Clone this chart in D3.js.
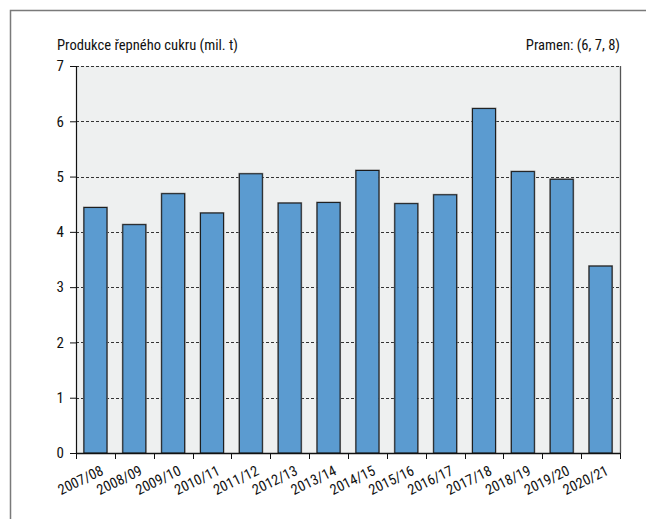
<!DOCTYPE html>
<html>
<head>
<meta charset="utf-8">
<script src="https://cdn.jsdelivr.net/npm/d3@7"></script>
<style>
  body { margin: 0; background: #fff; }
  svg text { font-family: "Liberation Sans Narrow", "Roboto Condensed", "Liberation Sans", sans-serif; fill: #111; }
</style>
</head>
<body>
<div id="chart"></div>
<script>
const seasons = ['2007/08', '2008/09', '2009/10', '2010/11', '2011/12', '2012/13', '2013/14',
    '2014/15', '2015/16', '2016/17', '2017/18', '2018/19', '2019/20', '2020/21'];
const production = [4.44, 4.13, 4.69, 4.34, 5.05, 4.52, 4.53, 5.11, 4.51, 4.67, 6.23, 5.09, 4.95, 3.38];
const yTicks = [0, 1, 2, 3, 4, 5, 6, 7];
const titleText = 'Produkce řepného cukru (mil. t)';
const sourceText = 'Pramen: (6, 7, 8)';

const width = 646, height = 519;
const margin = { top: 66, right: 26, bottom: 66, left: 76 };
const plotW = width - margin.left - margin.right;
const plotH = height - margin.top - margin.bottom;

const svg = d3.select('#chart').append('svg')
    .attr('width', width)
    .attr('height', height);

// outer frame (only left/top edges visible)
svg.append('rect')
    .attr('x', 10.5).attr('y', 10.5)
    .attr('width', width + 20).attr('height', height + 20)
    .attr('fill', 'none')
    .attr('stroke', '#7a7a7a')
    .attr('stroke-width', 1.5);

const x = d3.scaleBand()
    .domain(seasons)
    .range([0, plotW])
    .paddingInner(0.41)
    .paddingOuter(0.205);

const y = d3.scaleLinear()
    .domain([0, 7])
    .range([plotH, 0]);

const g = svg.append('g')
    .attr('transform', `translate(${margin.left},${margin.top})`);

g.append('rect')
    .attr('width', plotW)
    .attr('height', plotH)
    .attr('fill', '#eef0f0');

// grid lines
g.selectAll('.grid')
    .data(yTicks.filter(d => d > 0))
    .enter().append('line')
    .attr('class', 'grid')
    .attr('x1', 0).attr('x2', plotW)
    .attr('y1', d => Math.round(y(d)) + 0.5)
    .attr('y2', d => Math.round(y(d)) + 0.5)
    .attr('stroke', '#333')
    .attr('stroke-width', 1)
    .attr('stroke-dasharray', '3,2');

// right border of plot
g.append('line')
    .attr('x1', plotW + 0.5).attr('x2', plotW + 0.5)
    .attr('y1', 0).attr('y2', plotH)
    .attr('stroke', '#555')
    .attr('stroke-width', 1.3);

// bar shadows
g.selectAll('.shadow')
    .data(production)
    .enter().append('rect')
    .attr('class', 'shadow')
    .attr('x', (d, i) => x(seasons[i]) - 0.5)
    .attr('y', d => y(d) - 0.5)
    .attr('width', x.bandwidth() + 1)
    .attr('height', d => plotH - y(d))
    .attr('fill', 'none')
    .attr('stroke', '#888')
    .attr('stroke-width', 1);

g.selectAll('.bar')
    .data(production)
    .enter().append('rect')
    .attr('class', 'bar')
    .attr('x', (d, i) => x(seasons[i]))
    .attr('y', d => y(d))
    .attr('width', x.bandwidth())
    .attr('height', d => plotH - y(d))
    .attr('fill', '#5b9bd0')
    .attr('stroke', '#1a1a1a')
    .attr('stroke-width', 1);

// y axis
const yAxis = g.append('g')
    .call(d3.axisLeft(y).tickValues(yTicks).tickSize(6).tickPadding(6).tickFormat(d3.format('d')));
yAxis.select('.domain').attr('stroke', '#111').attr('stroke-width', 1.2);
yAxis.selectAll('.tick line').attr('stroke', '#111');
yAxis.selectAll('text').attr('font-size', 15);

// x axis with ticks at band boundaries
const xAxis = g.append('g')
    .attr('transform', `translate(0,${plotH})`);
xAxis.append('line')
    .attr('x1', 0).attr('x2', plotW)
    .attr('y1', 0.5).attr('y2', 0.5)
    .attr('stroke', '#111')
    .attr('stroke-width', 1.3);
const step = x.step();
xAxis.selectAll('.xtick')
    .data(d3.range(seasons.length + 1))
    .enter().append('line')
    .attr('class', 'xtick')
    .attr('x1', i => Math.round(i * step) + 0.5)
    .attr('x2', i => Math.round(i * step) + 0.5)
    .attr('y1', 0).attr('y2', 6)
    .attr('stroke', '#111');
xAxis.selectAll('.xlabel')
    .data(seasons)
    .enter().append('text')
    .attr('class', 'xlabel')
    .attr('text-anchor', 'end')
    .attr('font-size', 14.5)
    .attr('transform', d => `translate(${x(d) + x.bandwidth() / 2 + 9},${21}) rotate(-26)`)
    .text(d => d);

svg.append('text')
    .attr('x', 57).attr('y', 50)
    .attr('font-size', 14.6)
    .text(titleText);

svg.append('text')
    .attr('x', width - margin.right).attr('y', 50)
    .attr('text-anchor', 'end')
    .attr('font-size', 14.6)
    .text(sourceText);
</script>
</body>
</html>
